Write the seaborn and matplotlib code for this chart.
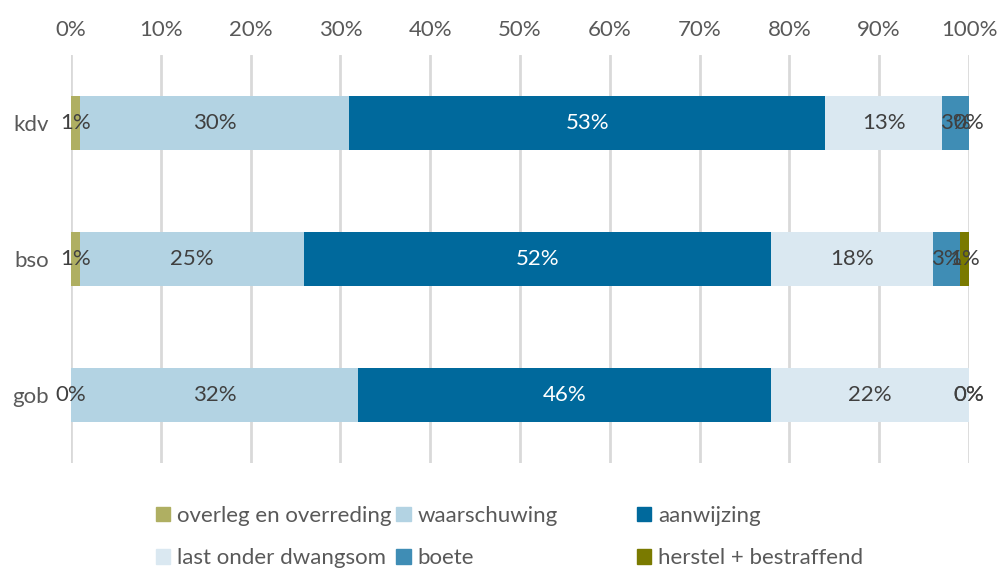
import numpy as np
import pandas as pd
import matplotlib.pyplot as plt
import matplotlib.patches as mpatches
import seaborn as sns

# data (percentages per sector)
sectors = ['kdv', 'bso', 'gob']
series = ['overleg en overreding', 'waarschuwing', 'aanwijzing',
          'last onder dwangsom', 'boete', 'herstel + bestraffend']
overleg = [1, 1, 0]
waarschuwing = [30, 25, 32]
aanwijzing = [53, 52, 46]
last_dwangsom = [13, 18, 22]
boete = [3, 3, 0]
herstel = [0, 1, 0]
ticks = [0, 10, 20, 30, 40, 50, 60, 70, 80, 90, 100]

colors = ['#afaf62', '#b3d3e3', '#00699c', '#dae8f1', '#3f8db5', '#7a7a00']

sns.set_style('white')
plt.rcParams['font.family'] = ['Lato', 'DejaVu Sans']

values = np.array([overleg, waarschuwing, aanwijzing, last_dwangsom, boete, herstel])
cum = values.cumsum(axis=0)
left = cum - values

fig = plt.figure(figsize=(9.98, 5.69), dpi=100)
ax = fig.add_axes([0.0711, 0.1863, 0.8998, 0.7170])

# draw stacked bars: longest cumulative first so shorter ones sit on top
for i in range(len(series) - 1, -1, -1):
    df = pd.DataFrame({'sector': sectors, 'end': cum[i]})
    sns.barplot(data=df, x='end', y='sector', orient='h', color=colors[i],
                saturation=1, width=0.4, linewidth=0, ax=ax)

# data labels in the middle of each segment
for i in range(len(series)):
    for j in range(len(sectors)):
        xc = left[i, j] + values[i, j] / 2
        col = 'white' if i == 2 else '#404040'
        ax.text(xc, j, f'{values[i, j]}%', ha='center', va='center',
                fontsize=16, color=col)

ax.set_xlim(0, 100)
ax.set_xticks(ticks)
ax.set_xticklabels([f'{t}%' for t in ticks])
ax.xaxis.tick_top()
ax.set_xlabel('')
ax.set_ylabel('')
ax.tick_params(axis='x', length=0, pad=11, labelsize=16, labelcolor='#595959')
ax.tick_params(axis='y', length=0, pad=16, labelsize=16, labelcolor='#595959')
ax.grid(axis='x', color='#d9d9d9', linewidth=2)
ax.set_axisbelow(True)
for s in ax.spines.values():
    s.set_visible(False)

# legend laid out in three fixed-width columns, like the original
handles = [mpatches.Patch(color=c) for c in colors]
col_x = [0.156, 0.397, 0.638]
for k in range(3):
    idx = [k, k + 3]
    leg = fig.legend([handles[n] for n in idx], [series[n] for n in idx],
                     loc='upper left', bbox_to_anchor=(col_x[k], 0.111),
                     frameon=False, fontsize=16, handlelength=0.65,
                     handleheight=0.65, handletextpad=0.3, labelspacing=1.0,
                     borderpad=0, borderaxespad=0, labelcolor='#595959')

fig.savefig('out.png', dpi=100)
